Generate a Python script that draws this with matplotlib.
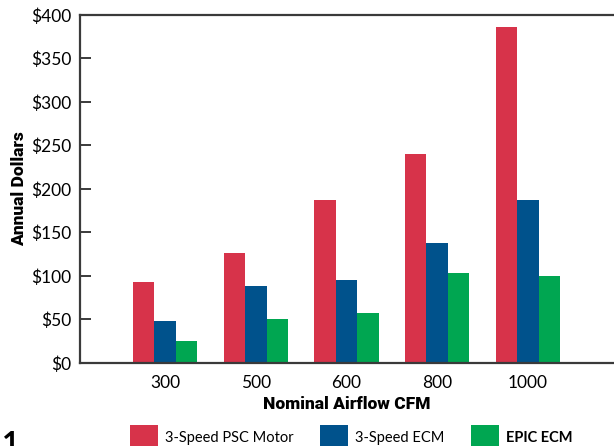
import matplotlib.pyplot as plt
import numpy as np

# values (annual dollars)
airflow = ['300', '500', '600', '800', '1000']
psc_motor = [93, 126, 187, 240, 386]
speed_ecm = [48, 89, 95, 138, 187]
epic_ecm = [25, 50, 58, 103, 100]

series_names = ['3-Speed PSC Motor', '3-Speed ECM', 'EPIC ECM']
colors = ['#D7334A', '#00528C', '#00A651']

plt.rcParams['font.family'] = ['Lato', 'DejaVu Sans']

fig = plt.figure(figsize=(6.14, 4.46), dpi=100)
ax = fig.add_axes([0.1303, 0.1861, 0.8697, 0.7803])

x = np.arange(len(airflow))
w = 0.237
bars = []
for i, vals in enumerate([psc_motor, speed_ecm, epic_ecm]):
    b = ax.bar(x + (i - 1) * w, vals, w, color=colors[i], label=series_names[i])
    bars.append(b)

ax.set_xlim(-0.94, 4.95)
ax.set_ylim(0, 400)
ax.set_yticks(range(0, 401, 50))
ax.set_yticklabels(['$' + str(v) for v in range(0, 401, 50)])
ax.set_xticks(x)
ax.set_xticklabels(airflow)

for side in ['left', 'top', 'bottom']:
    ax.spines[side].set_linewidth(1.6)
    ax.spines[side].set_color('#3a3a3a')
ax.spines['right'].set_visible(False)

ax.tick_params(axis='y', direction='in', length=8, width=1.4, color='#3a3a3a',
               labelsize=12.5, pad=6)
ax.tick_params(axis='x', length=0, labelsize=12.5, pad=9)

# heavy, narrow face for the axis titles
label_font = dict(family=['Roboto', 'DejaVu Sans'], fontweight='black', fontsize=12.5)
ax.set_xlabel('Nominal Airflow CFM', labelpad=3, **label_font)
ax.set_ylabel('Annual Dollars', labelpad=3, **label_font)

leg = fig.legend(handles=bars, labels=series_names, ncol=3, loc='center left',
                 bbox_to_anchor=(130 / 614, 1 - 437 / 446), frameon=False, fontsize=10.5,
                 handlelength=1.92, handleheight=2.2, handletextpad=0.48,
                 columnspacing=1.8, borderaxespad=0, borderpad=0)
leg.get_texts()[2].set_fontweight('bold')

fig.text(0.003, 0.036, '1', fontsize=22, fontweight='bold', ha='left', va='top')

fig.savefig('out.png', dpi=100)
